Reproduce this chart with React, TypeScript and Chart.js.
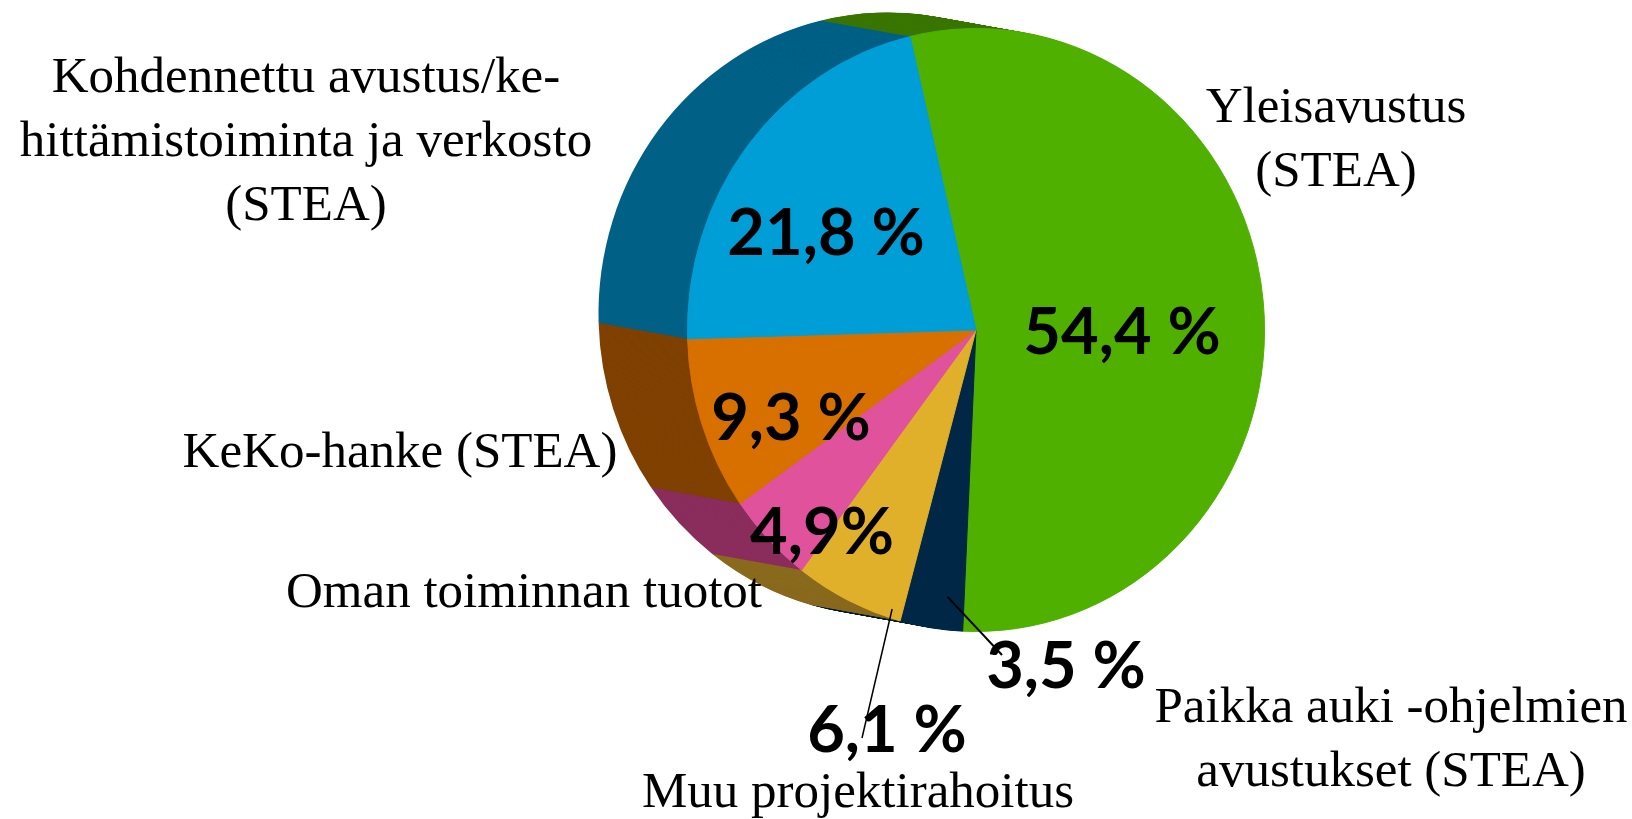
import React, { useEffect, useRef } from "react";
import { Chart, registerables } from "chart.js";

Chart.register(...registerables);

// ---- data ----
const categories = [
  "Yleisavustus (STEA)",
  "Paikka auki -ohjelmien avustukset (STEA)",
  "Muu projektirahoitus",
  "Oman toiminnan tuotot",
  "KeKo-hanke (STEA)",
  "Kohdennettu avustus/kehittämistoiminta ja verkosto (STEA)",
];
const values = [54.4, 3.5, 6.1, 4.9, 9.3, 21.8];
const percentLabels = ["54,4 %", "3,5 %", "6,1 %", "4,9%", "9,3 %", "21,8 %"];
const categoryLines = [
  ["Yleisavustus", "(STEA)"],
  ["Paikka auki -ohjelmien", "avustukset (STEA)"],
  ["Muu projektirahoitus"],
  ["Oman toiminnan tuotot"],
  ["KeKo-hanke (STEA)"],
  ["Kohdennettu avustus/ke-", "hittämistoiminta ja verkosto", "(STEA)"],
];

// ---- styles / layout ----
const faceColors = ["#50B000", "#002846", "#E0B02A", "#E0529C", "#D87000", "#009ED6"];
const sideColors = ["#3A7600", "#00223A", "#8A6A1E", "#8A2C5C", "#7F4000", "#006086"];
const ROTATION = -13.2;
const SQUASH = 0.957;
const DEPTH_X = -93;
const DEPTH_Y = -16;
const CENTER_X = 976;
const CENTER_Y = 330;
const RADIUS = 302;
const W = 1632;
const H = 819;
const catLabelPos = [
  [1336, 122],
  [1391, 722],
  [858, 807],
  [524, 607],
  [400, 467],
  [306, 92],
];
const pctLabelPos = [
  [1122, 354],
  [1066, 688],
  [887, 752],
  [822, 554],
  [791, 440],
  [826, 255],
];
// index -> [endX, endY, lineWidth, angleFraction, radiusFactor]
const leaders: Record<number, [number, number, number, number, number]> = {
  1: [1002, 655, 2, 0.3, 0.89],
  2: [862, 738, 1.5, 0.1, 0.97],
};
const SERIF = '51px "Liberation Serif", "Times New Roman", serif';
const PCT_FONT = 'bold 65px Lato, "Open Sans", sans-serif';
const LINE_H = 64;

export default function App() {
  const ref = useRef<HTMLCanvasElement>(null);

  useEffect(() => {
    document.body.style.margin = "0";
    document.body.style.overflow = "hidden";
    const canvas = ref.current!;

    const pie3d = {
      id: "pie3d",
      beforeDatasetsDraw(chart: any) {
        const ctx = chart.ctx as CanvasRenderingContext2D;
        const arcs = chart.getDatasetMeta(0).data as any[];
        const cx = arcs[0].x;
        ctx.save();
        ctx.translate(cx, 0);
        ctx.scale(SQUASH, 1);
        ctx.translate(-cx, 0);
        const steps = Math.ceil(Math.hypot(DEPTH_X, DEPTH_Y));
        for (let k = steps; k >= 1; k--) {
          const t = k / steps;
          ctx.save();
          ctx.translate(DEPTH_X * t, DEPTH_Y * t);
          arcs.forEach((arc, i) => {
            ctx.fillStyle = sideColors[i];
            ctx.beginPath();
            ctx.moveTo(arc.x, arc.y);
            ctx.arc(arc.x, arc.y, arc.outerRadius, arc.startAngle, arc.endAngle);
            ctx.closePath();
            ctx.fill();
          });
          ctx.restore();
        }
      },
      afterDatasetsDraw(chart: any) {
        chart.ctx.restore();
      },
      afterDraw(chart: any) {
        const ctx = chart.ctx as CanvasRenderingContext2D;
        const arcs = chart.getDatasetMeta(0).data as any[];
        ctx.save();
        ctx.fillStyle = "#000";
        ctx.textAlign = "center";
        ctx.textBaseline = "alphabetic";
        ctx.font = SERIF;
        categoryLines.forEach((lines, i) => {
          const [x, y] = catLabelPos[i];
          lines.forEach((ln, j) => ctx.fillText(ln, x, y + j * LINE_H));
        });
        ctx.font = PCT_FONT;
        percentLabels.forEach((txt, i) => {
          const [x, y] = pctLabelPos[i];
          ctx.fillText(txt, x, y);
        });
        ctx.strokeStyle = "#000";
        Object.keys(leaders).forEach((key) => {
          const i = Number(key);
          const arc = arcs[i];
          const [ex, ey, lw, frac, rf] = leaders[i];
          const a = arc.startAngle + (arc.endAngle - arc.startAngle) * frac;
          const sx = arc.x + Math.cos(a) * arc.outerRadius * rf * SQUASH;
          const sy = arc.y + Math.sin(a) * arc.outerRadius * rf;
          ctx.lineWidth = lw;
          ctx.beginPath();
          ctx.moveTo(sx, sy);
          ctx.lineTo(ex, ey);
          ctx.stroke();
        });
        ctx.restore();
      },
    };

    const chart = new Chart(canvas, {
      type: "pie",
      data: {
        labels: categories,
        datasets: [
          {
            data: values,
            backgroundColor: faceColors,
            borderColor: faceColors,
            borderWidth: 1,
            hoverOffset: 0,
            offset: 0,
            clip: false,
          } as any,
        ],
      },
      options: {
        responsive: false,
        animation: false,
        rotation: ROTATION,
        events: [],
        layout: {
          padding: {
            top: CENTER_Y - RADIUS,
            bottom: H - CENTER_Y - RADIUS,
            left: CENTER_X - RADIUS,
            right: W - CENTER_X - RADIUS,
          },
        },
        plugins: {
          legend: { display: false },
          tooltip: { enabled: false },
        },
      } as any,
      plugins: [pie3d],
    });
    return () => chart.destroy();
  }, []);

  return (
    <div style={{ width: W, height: H, background: "#fff" }}>
      <canvas ref={ref} width={W} height={H} style={{ display: "block" }} />
    </div>
  );
}
